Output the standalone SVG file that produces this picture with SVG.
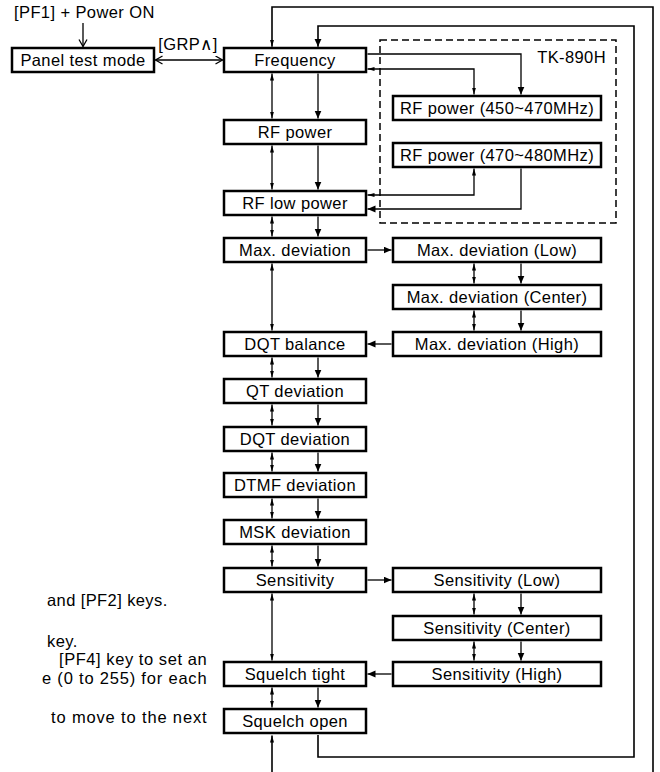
<svg xmlns="http://www.w3.org/2000/svg" width="660" height="772" viewBox="0 0 660 772">
<style>
.b{fill:#fff;stroke:#000;stroke-width:2.5}
.t{font-family:"Liberation Sans",Arial,sans-serif;font-size:16.5px;letter-spacing:0.4px;fill:#000}
.m{text-anchor:middle}
.c{fill:none;stroke:#000;stroke-width:1.3}
.lp{fill:none;stroke:#000;stroke-width:1.6}
.s{marker-end:url(#af)}
.d{marker-start:url(#at);marker-end:url(#at)}
</style>
<defs>
<marker id="af" markerWidth="9" markerHeight="8" refX="8" refY="3.5" orient="auto-start-reverse" markerUnits="userSpaceOnUse"><path d="M0,0 L8,3.5 L0,7 z" fill="#000"/></marker>
<marker id="at" markerWidth="8" markerHeight="5" refX="7" refY="2" orient="auto-start-reverse" markerUnits="userSpaceOnUse"><path d="M0,0 L7,2 L0,4 z" fill="#000"/></marker>
<marker id="ao" markerWidth="10" markerHeight="10" refX="8" refY="4.5" orient="auto-start-reverse" markerUnits="userSpaceOnUse"><path d="M1,0.5 L8,4.5 L1,8.5" fill="none" stroke="#000" stroke-width="1.3"/></marker>
</defs>

<g id="tk890h-area">
<rect x="380" y="40" width="236" height="183" fill="none" stroke="#000" stroke-width="1.5" stroke-dasharray="7 4"/>
<text class="t" x="606" y="63" text-anchor="end">TK-890H</text>
</g>

<g id="connectors">
<path class="c" d="M83,23 V46.5" marker-end="url(#ao)"/>
<path class="c" d="M155.5,60 H222.5" marker-start="url(#ao)" marker-end="url(#ao)"/>
<path class="lp" d="M272,46.8 V7 H653 V772" marker-start="url(#at)"/>
<path class="lp" d="M272,772 V735.5" marker-end="url(#at)"/>
<path class="lp s" d="M318,735 V757 H634 V26 H318 V46.8"/>
<path class="c d" d="M272,73.5 V118.5"/><path class="c s" d="M318,73.5 V118.5"/>
<path class="c d" d="M272,145.5 V189.5"/><path class="c s" d="M318,145.5 V189.5"/>
<path class="c d" d="M272,216.5 V236.5"/><path class="c s" d="M318,216.5 V236.5"/>
<path class="c d" d="M272,263.5 V330.5"/>
<path class="c d" d="M272,357.5 V377.5"/><path class="c s" d="M318,357.5 V377.5"/>
<path class="c d" d="M272,404.5 V425.5"/><path class="c s" d="M318,404.5 V425.5"/>
<path class="c d" d="M272,452.5 V471.5"/><path class="c s" d="M318,452.5 V471.5"/>
<path class="c d" d="M272,498.5 V518.5"/><path class="c s" d="M318,498.5 V518.5"/>
<path class="c d" d="M272,545.5 V566.5"/><path class="c s" d="M318,545.5 V566.5"/>
<path class="c d" d="M272,593.5 V660.5"/>
<path class="c d" d="M272,687.5 V707.5"/><path class="c s" d="M318,687.5 V707.5"/>
<path class="c d" d="M474,263.5 V283.5"/><path class="c s" d="M521,263.5 V283.5"/>
<path class="c d" d="M474,310.5 V330.5"/><path class="c s" d="M521,310.5 V330.5"/>
<path class="c d" d="M474,593.5 V614.5"/><path class="c s" d="M521,593.5 V614.5"/>
<path class="c d" d="M474,641.5 V660.5"/><path class="c s" d="M521,641.5 V660.5"/>
<path class="c s" d="M367.5,250 H391.5"/>
<path class="c s" d="M391.5,344 H367.5"/>
<path class="c s" d="M367.5,580 H391.5"/>
<path class="c s" d="M391.5,674 H367.5"/>
<path class="c s" d="M367.5,54 H521 V94.5"/>
<path class="c d" d="M367.5,69 H474 V94.5"/>
<path class="c d" d="M474,168.5 V195 H367.5"/>
<path class="c s" d="M521,168.5 V209 H367.5"/>
</g>

<text class="t" x="14" y="18">[PF1] + Power ON</text>
<text class="t" x="188" y="50" text-anchor="middle">[GRP∧]</text>

<g id="panel"><rect class="b" x="12" y="48" width="142" height="24"/><text class="t m" x="83" y="66">Panel test mode</text></g>
<g id="frequency"><rect class="b" x="224" y="48" width="142" height="24"/><text class="t m" x="295" y="66">Frequency</text></g>
<g id="rf-power"><rect class="b" x="224" y="120" width="142" height="24"/><text class="t m" x="295" y="138">RF power</text></g>
<g id="rf-low-power"><rect class="b" x="224" y="191" width="142" height="24"/><text class="t m" x="295" y="209">RF low power</text></g>
<g id="max-deviation"><rect class="b" x="224" y="238" width="142" height="24"/><text class="t m" x="295" y="256">Max. deviation</text></g>
<g id="dqt-balance"><rect class="b" x="224" y="332" width="142" height="24"/><text class="t m" x="295" y="350">DQT balance</text></g>
<g id="qt-deviation"><rect class="b" x="224" y="379" width="142" height="24"/><text class="t m" x="295" y="397">QT deviation</text></g>
<g id="dqt-deviation"><rect class="b" x="224" y="427" width="142" height="24"/><text class="t m" x="295" y="445">DQT deviation</text></g>
<g id="dtmf-deviation"><rect class="b" x="224" y="473" width="142" height="24"/><text class="t m" x="295" y="491">DTMF deviation</text></g>
<g id="msk-deviation"><rect class="b" x="224" y="520" width="142" height="24"/><text class="t m" x="295" y="538">MSK deviation</text></g>
<g id="sensitivity"><rect class="b" x="224" y="568" width="142" height="24"/><text class="t m" x="295" y="586">Sensitivity</text></g>
<g id="squelch-tight"><rect class="b" x="224" y="662" width="142" height="24"/><text class="t m" x="295" y="680">Squelch tight</text></g>
<g id="squelch-open"><rect class="b" x="224" y="709" width="142" height="24"/><text class="t m" x="295" y="727">Squelch open</text></g>

<g id="rf-power-450"><rect class="b" x="393" y="96" width="208" height="24"/><text class="t m" x="497" y="114">RF power (450~470MHz)</text></g>
<g id="rf-power-470"><rect class="b" x="393" y="143" width="208" height="24"/><text class="t m" x="497" y="161">RF power (470~480MHz)</text></g>
<g id="max-dev-low"><rect class="b" x="393" y="238" width="208" height="24"/><text class="t m" x="497" y="256">Max. deviation (Low)</text></g>
<g id="max-dev-center"><rect class="b" x="393" y="285" width="208" height="24"/><text class="t m" x="497" y="303">Max. deviation (Center)</text></g>
<g id="max-dev-high"><rect class="b" x="393" y="332" width="208" height="24"/><text class="t m" x="497" y="350">Max. deviation (High)</text></g>
<g id="sens-low"><rect class="b" x="393" y="568" width="208" height="24"/><text class="t m" x="497" y="586">Sensitivity (Low)</text></g>
<g id="sens-center"><rect class="b" x="393" y="616" width="208" height="24"/><text class="t m" x="497" y="634">Sensitivity (Center)</text></g>
<g id="sens-high"><rect class="b" x="393" y="662" width="208" height="24"/><text class="t m" x="497" y="680">Sensitivity (High)</text></g>

<g id="fragments">
<text class="t" x="47" y="606">and [PF2] keys.</text>
<text class="t" x="47" y="647">key.</text>
<text class="t" x="59" y="665" textLength="148" lengthAdjust="spacing">[PF4] key to set an</text>
<text class="t" x="42" y="684" textLength="165" lengthAdjust="spacing">e (0 to 255) for each</text>
<text class="t" x="51" y="723" textLength="156" lengthAdjust="spacing">to move to the next</text>
</g>
</svg>
